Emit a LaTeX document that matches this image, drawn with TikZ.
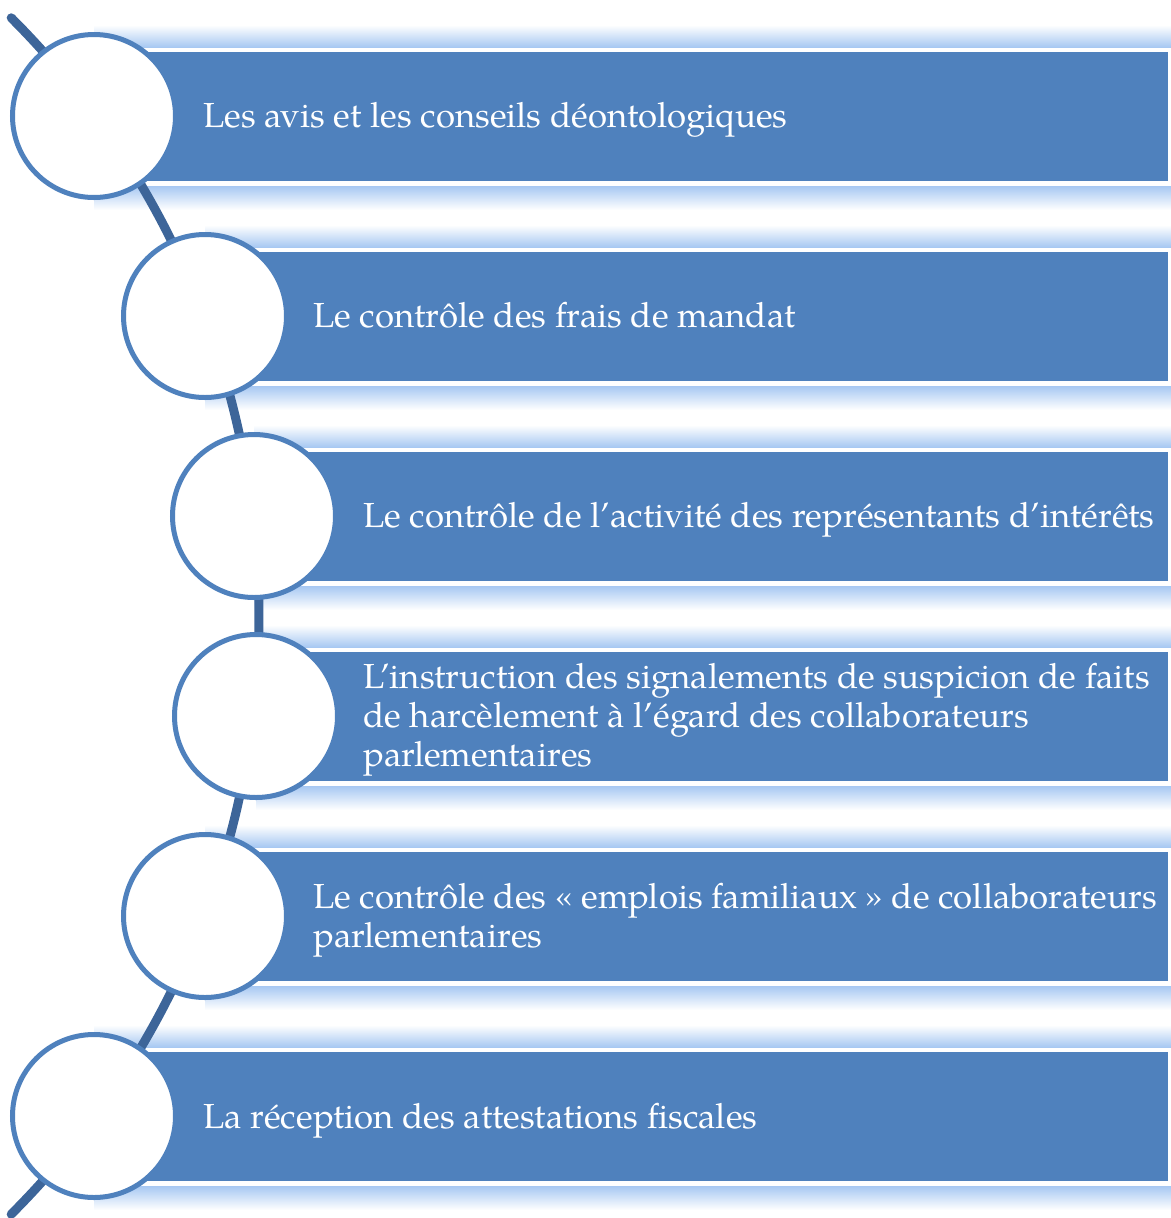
\documentclass[tikz,border=0pt]{standalone}
\usepackage{fontspec}
\setmainfont{texgyrepagella-regular.otf}
\definecolor{barblue}{HTML}{4F81BD}
\definecolor{lineblue}{HTML}{3D6599}
\definecolor{bandblue}{HTML}{A7C8F2}
\begin{document}
\begin{tikzpicture}[x=1bp,y=1bp,
  bubble/.style={circle, draw=barblue, line width=5bp, fill=white, minimum size=163bp, inner sep=0pt},
  bartext/.style={text=white, font=\fontsize{34.9}{39}\selectfont, anchor=base west, align=left, inner sep=0pt},
  spine/.style={draw=lineblue, line width=9bp, line cap=round}
]
\useasboundingbox (0,0) rectangle (1171,-1218);
% bands and bars
\foreach \cx [count=\i from 0] in {94,205,254,256,205,94}{
  \shade[top color=white,bottom color=bandblue] (\cx,{-25-200*\i}) rectangle (1171,{-47-200*\i});
  \shade[top color=bandblue,bottom color=white] (\cx,{-186-200*\i}) rectangle (1171,{-210-200*\i});
  \fill[barblue] (\cx,{-52-200*\i}) rectangle (1168,{-181-200*\i});
}
% spine arc
\coordinate (arcstart) at (11.2,-17.8);
\draw[spine] (arcstart) arc[start angle=45,end angle=-45,radius=846bp];
% circles
\node[bubble] (c1) at (94,-116) {};
\node[bubble] (c2) at (205,-316) {};
\node[bubble] (c3) at (254,-516) {};
\node[bubble] (c4) at (256,-716) {};
\node[bubble] (c5) at (205,-916) {};
\node[bubble] (c6) at (94,-1116) {};
% texts
\node[bartext] (t1) at (203,-127) {Les avis et les conseils déontologiques};
\node[bartext] (t2) at (313,-327) {Le contrôle des frais de mandat};
\node[bartext] (t3) at (363,-527) {Le contrôle de l’activité des représentants d’intérêts};
\node[bartext] (t4) at (363,-766) {L’instruction des signalements de suspicion de faits\\de harcèlement à l’égard des collaborateurs\\parlementaires};
\node[bartext] (t5) at (313,-947) {Le contrôle des «~emplois familiaux~» de collaborateurs\\parlementaires};
\node[bartext] (t6) at (203,-1128) {La réception des attestations fiscales};
\end{tikzpicture}
\end{document}
